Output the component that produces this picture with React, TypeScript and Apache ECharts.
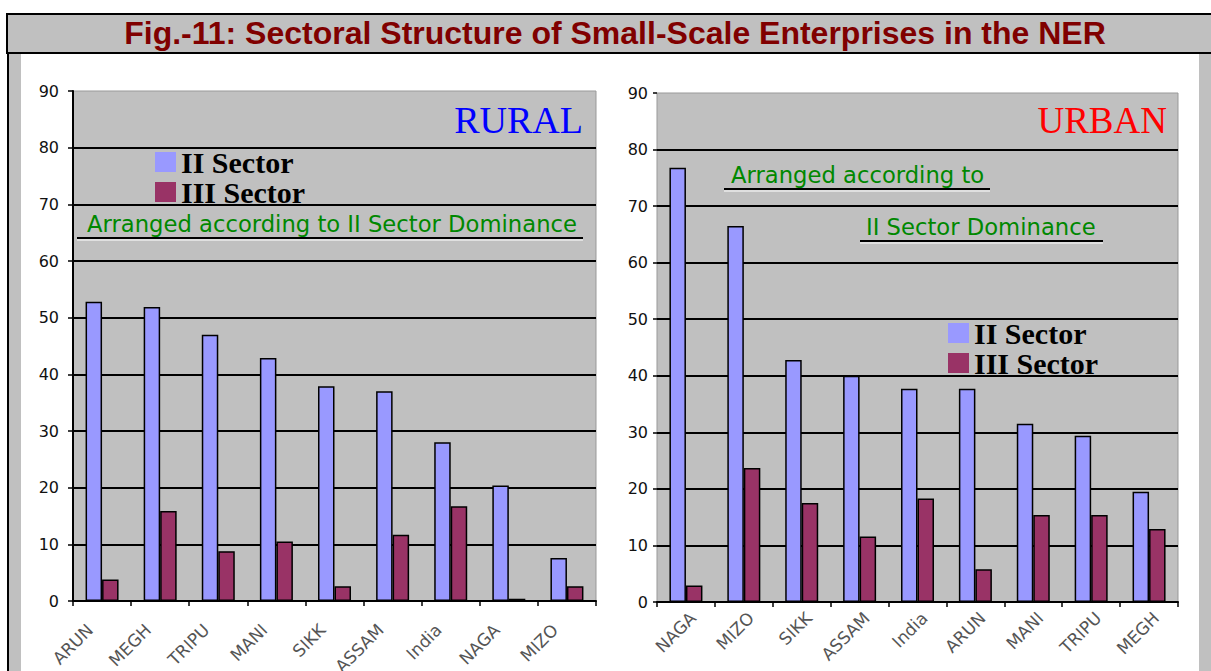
import React, { useEffect, useRef } from "react";
import * as echarts from "echarts";

const ruralCategories = ["ARUN", "MEGH", "TRIPU", "MANI", "SIKK", "ASSAM", "India", "NAGA", "MIZO"];
const ruralII = [52.8, 51.9, 47.0, 42.9, 37.9, 37.0, 28.0, 20.4, 7.6];
const ruralIII = [3.8, 15.9, 8.8, 10.5, 2.6, 11.7, 16.7, 0.4, 2.6];

const urbanCategories = ["NAGA", "MIZO", "SIKK", "ASSAM", "India", "ARUN", "MANI", "TRIPU", "MEGH"];
const urbanII = [76.8, 66.5, 42.8, 40.0, 37.7, 37.7, 31.5, 29.4, 19.5];
const urbanIII = [2.9, 23.7, 17.5, 11.6, 18.3, 5.8, 15.4, 15.4, 12.9];

const seriesNames = ["II Sector", "III Sector"];
const yMin = 0;
const yMax = 90;
const yInterval = 10;

const TITLE = "Fig.-11: Sectoral Structure of Small-Scale Enterprises in the NER";

const BLUE = "#9999ff";
const PLUM = "#993366";
const GREEN = "#008800";

function xAxisCfg(grid: number, data: string[], margin: number, vAlign: string, lineHeight: number) {
  return {
    type: "category",
    gridIndex: grid,
    data,
    axisLine: { show: true, lineStyle: { color: "#000", width: 2 } },
    axisTick: { show: true, length: 5, lineStyle: { color: "#000", width: 1.5 } },
    axisLabel: {
      rotate: 45,
      margin,
      interval: 0,
      color: "#555",
      fontSize: 17,
      lineHeight,
      fontFamily: "DejaVu Sans",
      verticalAlign: vAlign,
    },
  };
}

function yAxisCfg(grid: number, showLine: boolean, tickLen: number, margin: number) {
  return {
    type: "value",
    gridIndex: grid,
    min: yMin,
    max: yMax,
    interval: yInterval,
    axisLine: { show: showLine, lineStyle: { color: "#000", width: 2 } },
    axisTick: { show: true, length: tickLen, lineStyle: { color: "#000", width: 1.5 } },
    axisLabel: { margin, color: "#111", fontSize: 16, fontFamily: "DejaVu Sans" },
    splitLine: { show: true, showMaxLine: false, lineStyle: { color: "#000", width: 2 } },
  };
}

function barSeries(name: string, data: number[], idx: number, color: string, width: number) {
  return {
    type: "bar",
    name,
    xAxisIndex: idx,
    yAxisIndex: idx,
    data,
    barWidth: width,
    barGap: "0%",
    itemStyle: { color, borderColor: "#000", borderWidth: 1.5 },
    emphasis: { disabled: true },
  };
}

function legendCfg(left: number, top: number) {
  return {
    data: seriesNames,
    left,
    top,
    orient: "vertical",
    icon: "rect",
    itemWidth: 21,
    itemHeight: 20,
    itemGap: 0,
    padding: 0,
    selectedMode: false,
    itemStyle: { borderWidth: 0 },
    textStyle: {
      fontFamily: "Liberation Serif",
      fontWeight: "bold",
      fontSize: 30,
      lineHeight: 28,
      color: "#000",
    },
  };
}

function greenText(text: string, x: number, y: number) {
  return {
    type: "text",
    x,
    y,
    z: 100,
    style: {
      text,
      fill: GREEN,
      fontSize: 22.7,
      fontFamily: "DejaVu Sans",
      align: "left",
      verticalAlign: "middle",
    },
  };
}

function underline(x1: number, x2: number, y: number) {
  return [
    { type: "line", z: 100, shape: { x1, y1: y, x2, y2: y }, style: { stroke: "#000", lineWidth: 2 } },
    { type: "line", z: 100, shape: { x1, y1: y + 2, x2, y2: y + 2 }, style: { stroke: "#fff", lineWidth: 1 } },
  ];
}

export default function App() {
  const ref = useRef<HTMLDivElement>(null);

  useEffect(() => {
    if (!ref.current) return;
    const chart = echarts.init(ref.current, null, { renderer: "svg" });
    const option: any = {
      animation: false,
      backgroundColor: "#fff",
      grid: [
        { left: 73, top: 91, width: 523, height: 510, show: true, backgroundColor: "#c0c0c0", borderColor: "#999", borderWidth: 1, containLabel: false, outerBoundsMode: "none" },
        { left: 657, top: 93, width: 521, height: 509, show: true, backgroundColor: "#c0c0c0", borderColor: "#999", borderWidth: 1, containLabel: false, outerBoundsMode: "none" },
      ],
      xAxis: [xAxisCfg(0, ruralCategories, 38, "bottom", 34), xAxisCfg(1, urbanCategories, 6, "top", 20)],
      yAxis: [yAxisCfg(0, true, 5, 14), yAxisCfg(1, false, 4, 9)],
      legend: [legendCfg(155, 147), legendCfg(948, 318)],
      series: [
        barSeries(seriesNames[0], ruralII, 0, BLUE, 16.5),
        barSeries(seriesNames[1], ruralIII, 0, PLUM, 16.5),
        barSeries(seriesNames[0], urbanII, 1, BLUE, 16.5),
        barSeries(seriesNames[1], urbanIII, 1, PLUM, 16.5),
      ],
      graphic: [
        { type: "rect", z: 0, shape: { x: 7, y: 14, width: 1215, height: 39 }, style: { fill: "#c0c0c0", stroke: "#000", lineWidth: 2 } },
        { type: "rect", z: 0, shape: { x: 9, y: 54, width: 12, height: 620 }, style: { fill: "#c0c0c0" } },
        { type: "rect", z: 0, shape: { x: 1199, y: 54, width: 14, height: 620 }, style: { fill: "#c0c0c0" } },
        { type: "line", z: 1, shape: { x1: 8, y1: 53, x2: 8, y2: 671 }, style: { stroke: "#000", lineWidth: 2 } },
        {
          type: "text",
          x: 615,
          y: 33,
          z: 100,
          style: {
            text: TITLE,
            fill: "#800000",
            fontSize: 32,
            fontWeight: "bold",
            fontFamily: "Liberation Sans",
            align: "center",
            verticalAlign: "middle",
          },
        },
        {
          type: "text",
          x: 583,
          y: 120,
          z: 100,
          style: { text: "RURAL", fill: "#0000ff", fontSize: 38, fontFamily: "Liberation Serif", align: "right", verticalAlign: "middle" },
        },
        {
          type: "text",
          x: 1167,
          y: 120,
          z: 100,
          style: { text: "URBAN", fill: "#ff0000", fontSize: 37, fontFamily: "Liberation Serif", align: "right", verticalAlign: "middle" },
        },
        greenText("Arranged according to II Sector Dominance", 87, 224),
        ...underline(77, 583, 238),
        greenText("Arranged according to", 731, 175),
        ...underline(724, 990, 189),
        greenText("II Sector Dominance", 866, 227),
        ...underline(860, 1103, 241),
      ],
    };
    chart.setOption(option);
    return () => chart.dispose();
  }, []);

  return (
    <div
      ref={ref}
      style={{ position: "absolute", left: 0, top: 0, width: 1211, height: 671 }}
    />
  );
}
